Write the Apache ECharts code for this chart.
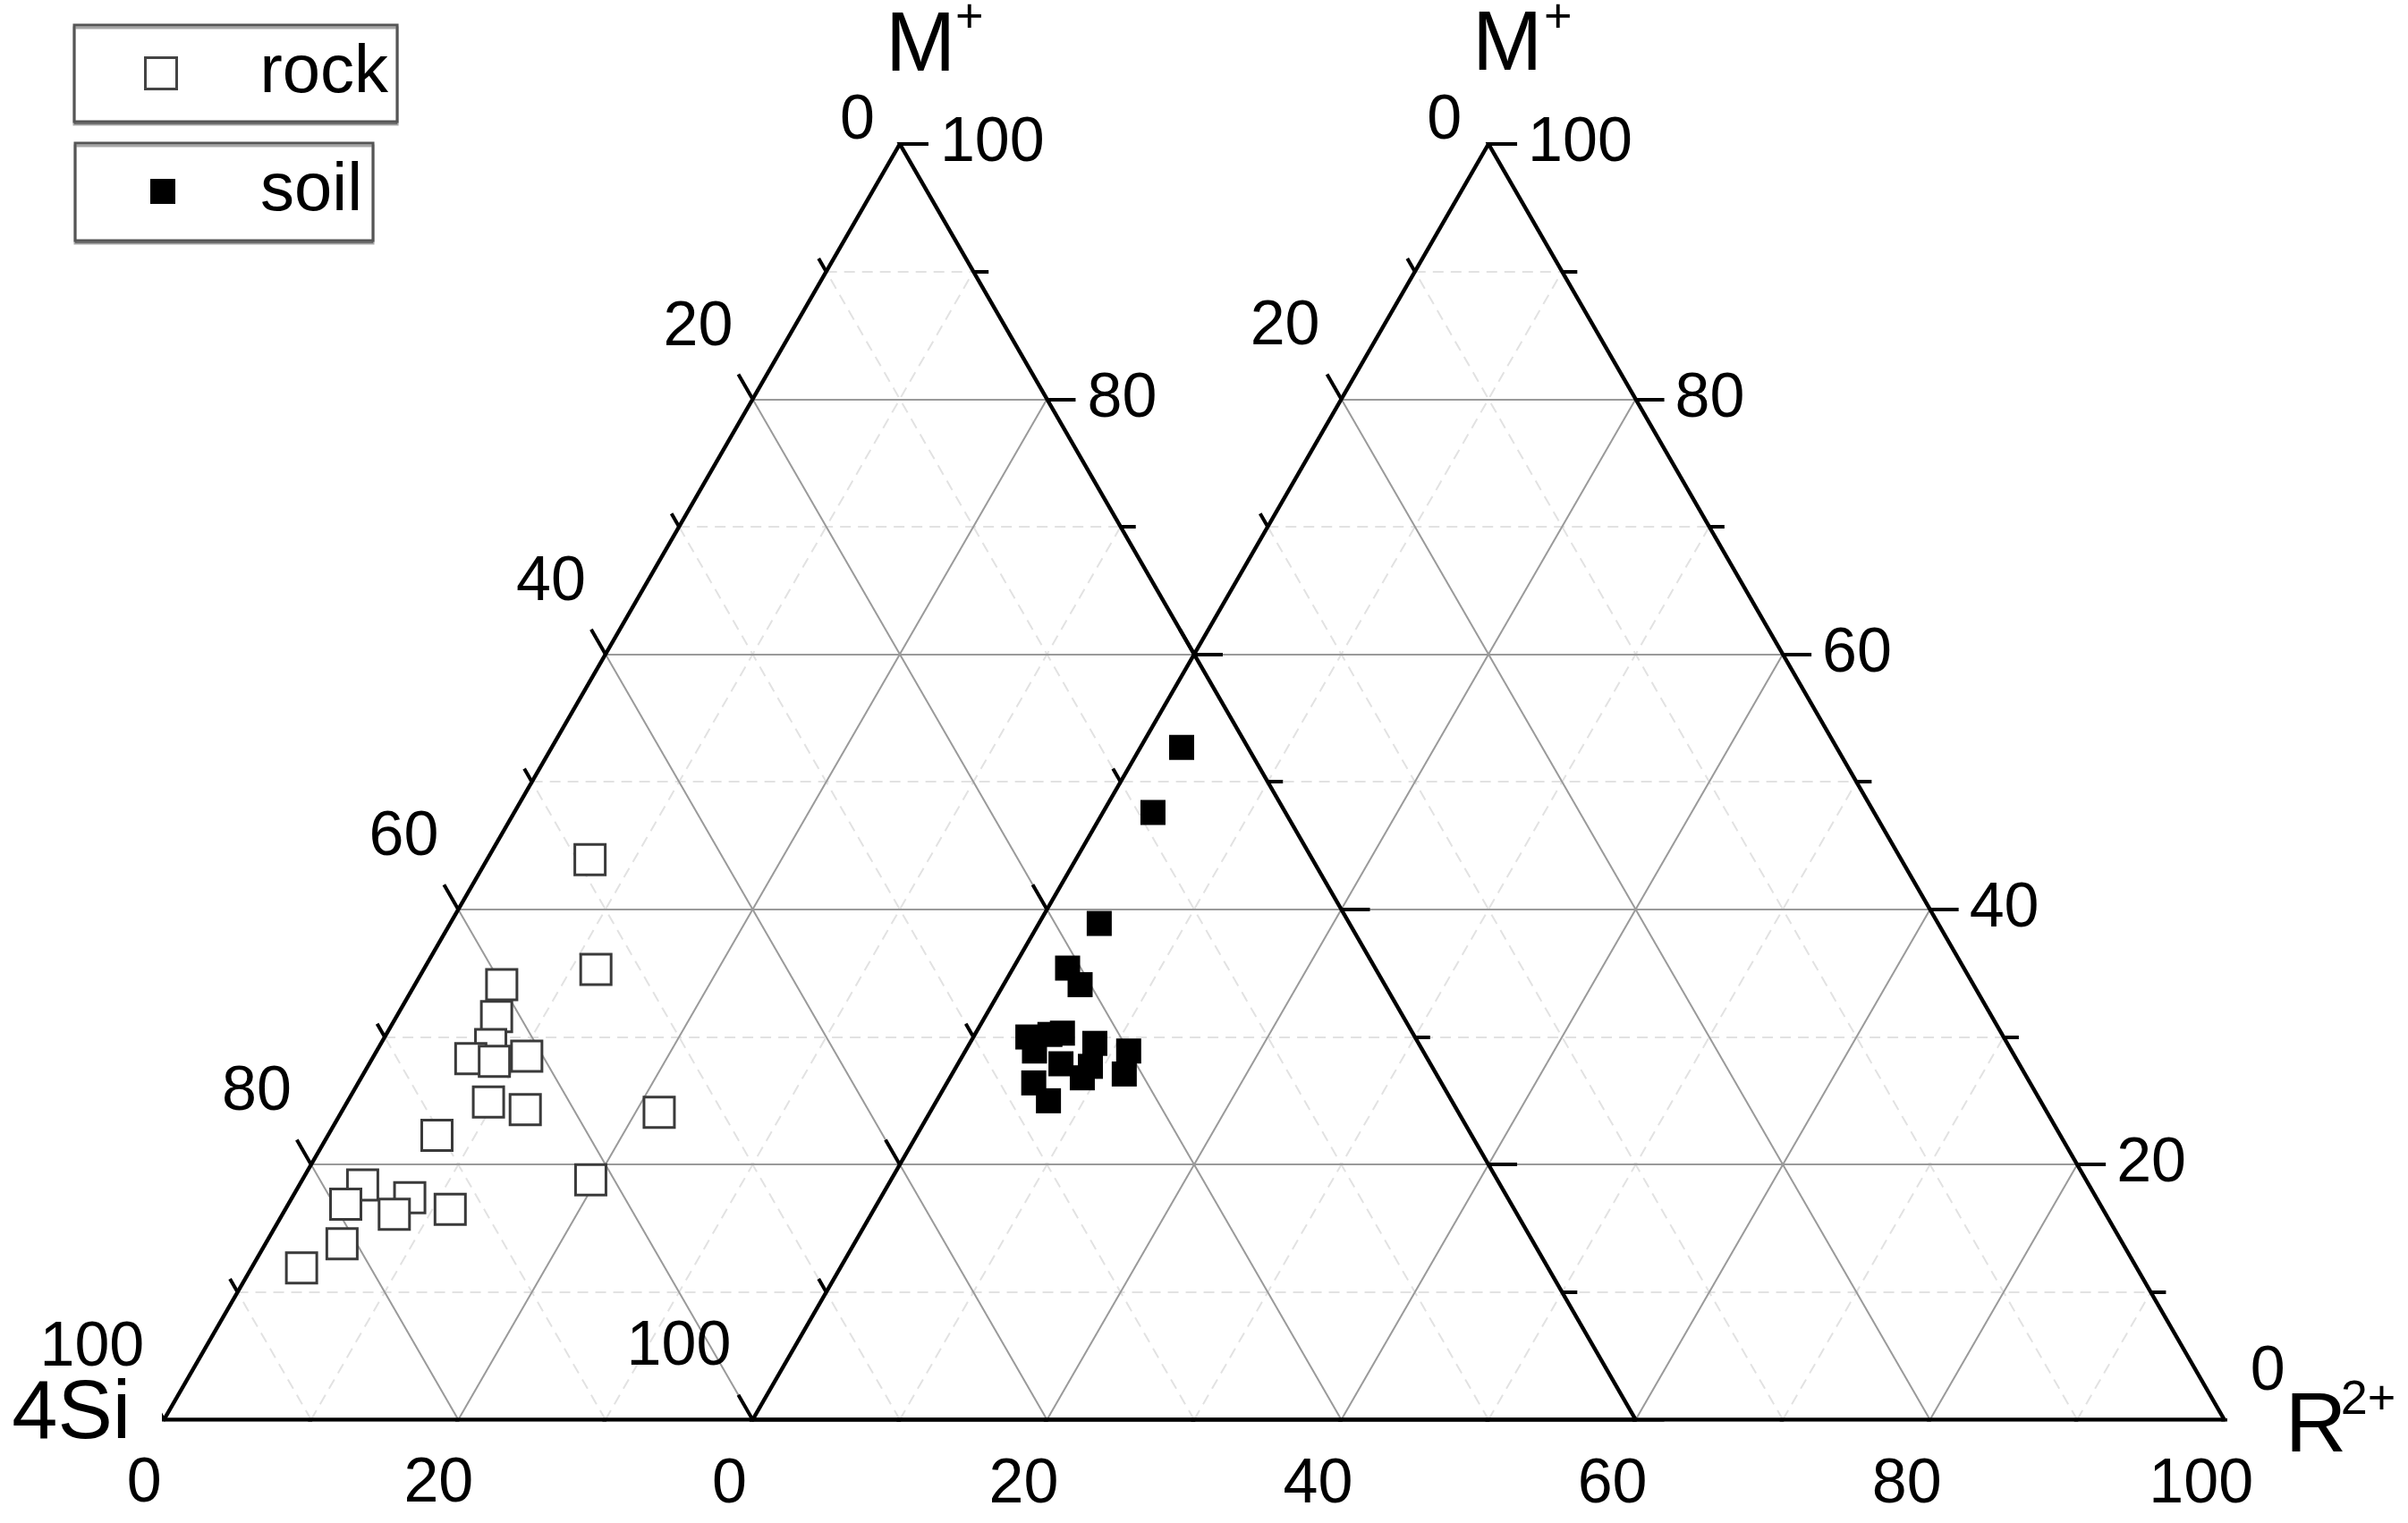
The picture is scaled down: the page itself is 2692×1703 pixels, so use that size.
<!DOCTYPE html>
<html>
<head>
<meta charset="utf-8">
<script src="https://cdn.jsdelivr.net/npm/echarts@6/dist/echarts.min.js"></script>
<style>
html,body{margin:0;padding:0;background:#fff;}
#chart{width:2692px;height:1703px;}
</style>
</head>
<body>
<div id="chart"></div>
<script>
// ---------------- data (ternary compositions, %) ----------------
// rock samples: 4Si - M+ - R2+ (left triangle)
const rockSi = [49.1, 53.0, 60.0, 61.6, 63.1, 65.0, 63.5, 61.1, 65.5, 63.3, 70.3, 54.3, 61.6, 77.3, 79.2, 74.6, 76.3, 72.3, 81.0, 84.7];
const rockM  = [43.9, 35.3, 34.1, 31.6, 29.4, 28.3, 28.1, 28.5, 24.9, 24.3, 22.3, 24.1, 18.8, 18.4, 16.9, 17.4, 16.1, 16.5, 13.8, 11.9];
const rockR  = [ 7.0, 11.7,  5.9,  6.8,  7.5,  6.7,  8.4, 10.4,  9.6, 12.4,  7.4, 21.6, 19.6,  4.3,  3.9,  8.0,  7.6, 11.2,  5.2,  3.4];
// soil samples: left vertex - M+ - R2+ (right triangle)
const soilL = [44.5, 49.0, 57.0, 60.9, 60.7, 66.3, 66.4, 64.7, 63.8, 62.0, 60.0, 61.2, 67.7, 67.4, 64.2, 63.2, 65.1];
const soilM = [52.7, 47.6, 38.9, 35.4, 34.1, 30.0, 28.9, 30.2, 30.3, 29.5, 28.9, 27.1, 26.4, 25.0, 26.8, 27.7, 27.9];
const soilR = [ 2.8,  3.4,  4.1,  3.7,  5.2,  3.7,  4.7,  5.1,  5.9,  8.5, 11.1, 11.7,  5.9,  7.6,  9.0,  9.1,  7.0];

// ticks and tick labels
const tickValues = [0, 10, 20, 30, 40, 50, 60, 70, 80, 90, 100];
const gridValues = [10, 20, 30, 40, 50, 60, 70, 80, 90];
const leftTriLeftLabels   = [0, 20, 40, 60, 80, 100];
const leftTriRightLabels  = [100, 80];
const leftTriBottomLabels = [0, 20];
const rightTriLeftLabels  = [0, 20, 100];
const rightTriRightLabels = [100, 80, 60, 40, 20, 0];
const rightTriBottomLabels = [0, 20, 40, 60, 80, 100];

// ---------------- geometry helpers ----------------
const H = Math.sqrt(3) / 2;
const OX = [0, 40];                 // bottom-left vertex offsets of the two triangles
function tern(ox, m, r) { return [ox + r + m / 2, m * H]; }
const FONT = "'Liberation Sans', Arial, sans-serif";

// grid lines, merged per line so the two triangles share them
const segMap = {};
function addSeg(key, a, b) { (segMap[key] = segMap[key] || []).push([a, b]); }
OX.forEach(ox => {
  gridValues.forEach(v => {
    addSeg('A|' + v, ox + v / 2, ox + 100 - v / 2);      // constant M+
    addSeg('B|' + (ox + v), 0, 100 - v);                 // constant R (parallel to left side)
    addSeg('C|' + (ox + 100 - v), 0, 100 - v);           // constant left-vertex (parallel to right side)
  });
});
const gridSolid = [], gridDashed = [];
Object.keys(segMap).forEach(key => {
  const [fam, cs] = key.split('|');
  const c = +cs;
  const ints = segMap[key].sort((p, q) => p[0] - q[0]);
  const merged = [];
  ints.forEach(iv => {
    const last = merged[merged.length - 1];
    if (last && iv[0] <= last[1] + 1e-9) last[1] = Math.max(last[1], iv[1]);
    else merged.push([iv[0], iv[1]]);
  });
  const isMajor = (Math.round(c) % 20) === 0;
  merged.forEach(([a, b]) => {
    let p1, p2;
    if (fam === 'A') { p1 = [a, c * H]; p2 = [b, c * H]; }
    else if (fam === 'B') { p1 = [c + a / 2, a * H]; p2 = [c + b / 2, b * H]; }
    else { p1 = [c - a / 2, a * H]; p2 = [c - b / 2, b * H]; }
    (isMajor ? gridSolid : gridDashed).push({ coords: [p1, p2] });
  });
});

// triangle outlines
const outline = [];
OX.forEach(ox => {
  const A = tern(ox, 0, 0), B = tern(ox, 100, 0), C = tern(ox, 0, 100);
  outline.push({ coords: [A, B] }, { coords: [B, C] }, { coords: [C, A] });
});

// ticks
const PXU = 16.46;
const ticks = [];
OX.forEach(ox => {
  tickValues.forEach(v => {
    const len = (v % 20 === 0 ? 32 : 17) / PXU;
    const pl = tern(ox, 100 - v, 0);           // left side
    ticks.push({ coords: [pl, [pl[0] - 0.5 * len, pl[1] + H * len]] });
    const pb = tern(ox, 0, v);                 // bottom
    ticks.push({ coords: [pb, [pb[0] - 0.5 * len, pb[1] - H * len]] });
    const pr = tern(ox, v, 100 - v);           // right side
    ticks.push({ coords: [pr, [pr[0] + len, pr[1]]] });
  });
});

// labels (anchored at tick positions, offsets in px)
const labelSpecs = [];
function addLabel(pos, text, dx, dy, align, size) {
  labelSpecs.push({ pos, text: String(text), dx, dy, align, size });
}
leftTriLeftLabels.forEach(v => {
  const p = tern(0, 100 - v, 0);
  if (v === 0) addLabel(p, v, -28, -25, 'right', 70); else addLabel(p, v, -22, -80, 'right', 70);
});
rightTriLeftLabels.forEach(v => {
  const p = tern(40, 100 - v, 0);
  if (v === 0) addLabel(p, v, -30, -25, 'right', 70); else addLabel(p, v, -24, -81, 'right', 70);
});
leftTriBottomLabels.forEach(v => addLabel(tern(0, 0, v), v, -22, 72, 'center', 70));
rightTriBottomLabels.forEach(v => addLabel(tern(40, 0, v), v, -26, 73, 'center', 70));
leftTriRightLabels.forEach(v => addLabel(tern(0, v, 100 - v), v, 45, 0, 'left', 70));
rightTriRightLabels.forEach(v => {
  const p = tern(40, v, 100 - v);
  if (v === 0) addLabel(p, v, 29, -53, 'left', 70); else addLabel(p, v, 44, 0, 'left', 70);
});
// axis titles
addLabel(tern(0, 0, 0), '4Si', -37, -5, 'right', 92);
addLabel(tern(0, 100, 0), 'M', -16, -108, 'left', 94);
addLabel(tern(0, 100, 0), '+', 62, -140, 'left', 54);
addLabel(tern(40, 100, 0), 'M', -18, -109, 'left', 94);
addLabel(tern(40, 100, 0), '+', 62, -140, 'left', 54);
addLabel(tern(40, 0, 100), 'R', 68, 9, 'left', 95);
addLabel(tern(40, 0, 100), '2+', 130, -21, 'left', 54);

const rockData = rockM.map((m, i) => tern(0, m, rockR[i]));
const soilData = soilM.map((m, i) => tern(40, m, soilR[i]));

// ---------------- chart ----------------
const chart = echarts.init(document.getElementById('chart'), null, { renderer: 'canvas' });
chart.setOption({
  animation: false,
  backgroundColor: '#fff',
  grid: { left: 183.3, right: 205.3, top: 161, bottom: 115.5, outerBoundsMode: 'none', containLabel: false },
  xAxis: { type: 'value', min: 0, max: 140, show: false },
  yAxis: { type: 'value', min: 0, max: 100 * H, show: false },
  legend: [
    {
      data: ['rock'], left: 83, top: 28, padding: [16, 10, 16, 78],
      itemWidth: 35, itemHeight: 35, selectedMode: false,
      borderColor: '#555', borderWidth: 3, backgroundColor: '#fff',
      shadowColor: 'rgba(0,0,0,0.35)', shadowOffsetY: 3, shadowBlur: 0,
      itemStyle: { color: '#fff', borderColor: '#444', borderWidth: 3 },
      textStyle: { fontSize: 76, fontFamily: FONT, color: '#000', lineHeight: 76, padding: [0, 0, 0, 88] }
    },
    {
      data: ['soil'], left: 84, top: 160, padding: [16, 12, 17, 84],
      itemWidth: 28, itemHeight: 28, selectedMode: false,
      borderColor: '#555', borderWidth: 3, backgroundColor: '#fff',
      shadowColor: 'rgba(0,0,0,0.35)', shadowOffsetY: 3, shadowBlur: 0,
      itemStyle: { color: '#000', borderColor: '#000', borderWidth: 0 },
      textStyle: { fontSize: 76, fontFamily: FONT, color: '#000', lineHeight: 76, padding: [0, 0, 0, 90] }
    }
  ],
  series: [
    {
      type: 'lines', coordinateSystem: 'cartesian2d', silent: true, z: 1,
      lineStyle: { color: '#e2e2e2', width: 2, type: [12, 8], opacity: 1 },
      data: gridDashed
    },
    {
      type: 'lines', coordinateSystem: 'cartesian2d', silent: true, z: 2,
      lineStyle: { color: '#9a9a9a', width: 2, type: 'solid', opacity: 1 },
      data: gridSolid
    },
    {
      type: 'lines', coordinateSystem: 'cartesian2d', silent: true, z: 3,
      lineStyle: { color: '#000', width: 4.5, opacity: 1 },
      data: outline
    },
    {
      type: 'lines', coordinateSystem: 'cartesian2d', silent: true, z: 3,
      lineStyle: { color: '#000', width: 4, opacity: 1 },
      data: ticks
    },
    {
      name: 'rock', type: 'scatter', symbol: 'rect', symbolSize: 34, z: 5,
      itemStyle: { color: '#fff', borderColor: '#3a3a3a', borderWidth: 3, opacity: 1 },
      data: rockData
    },
    {
      name: 'soil', type: 'scatter', symbol: 'rect', symbolSize: 28, z: 5,
      itemStyle: { color: '#000', opacity: 1 },
      data: soilData
    },
    {
      type: 'custom', silent: true, z: 6, clip: false,
      encode: { x: 0, y: 1 },
      data: labelSpecs.map(s => s.pos),
      renderItem: function (params, api) {
        const s = labelSpecs[params.dataIndex];
        const p = api.coord([api.value(0), api.value(1)]);
        return {
          type: 'text',
          x: p[0] + s.dx, y: p[1] + s.dy,
          style: {
            text: s.text, fill: '#000', fontSize: s.size, fontFamily: FONT,
            align: s.align, verticalAlign: 'middle'
          }
        };
      }
    }
  ]
});
</script>
</body>
</html>
